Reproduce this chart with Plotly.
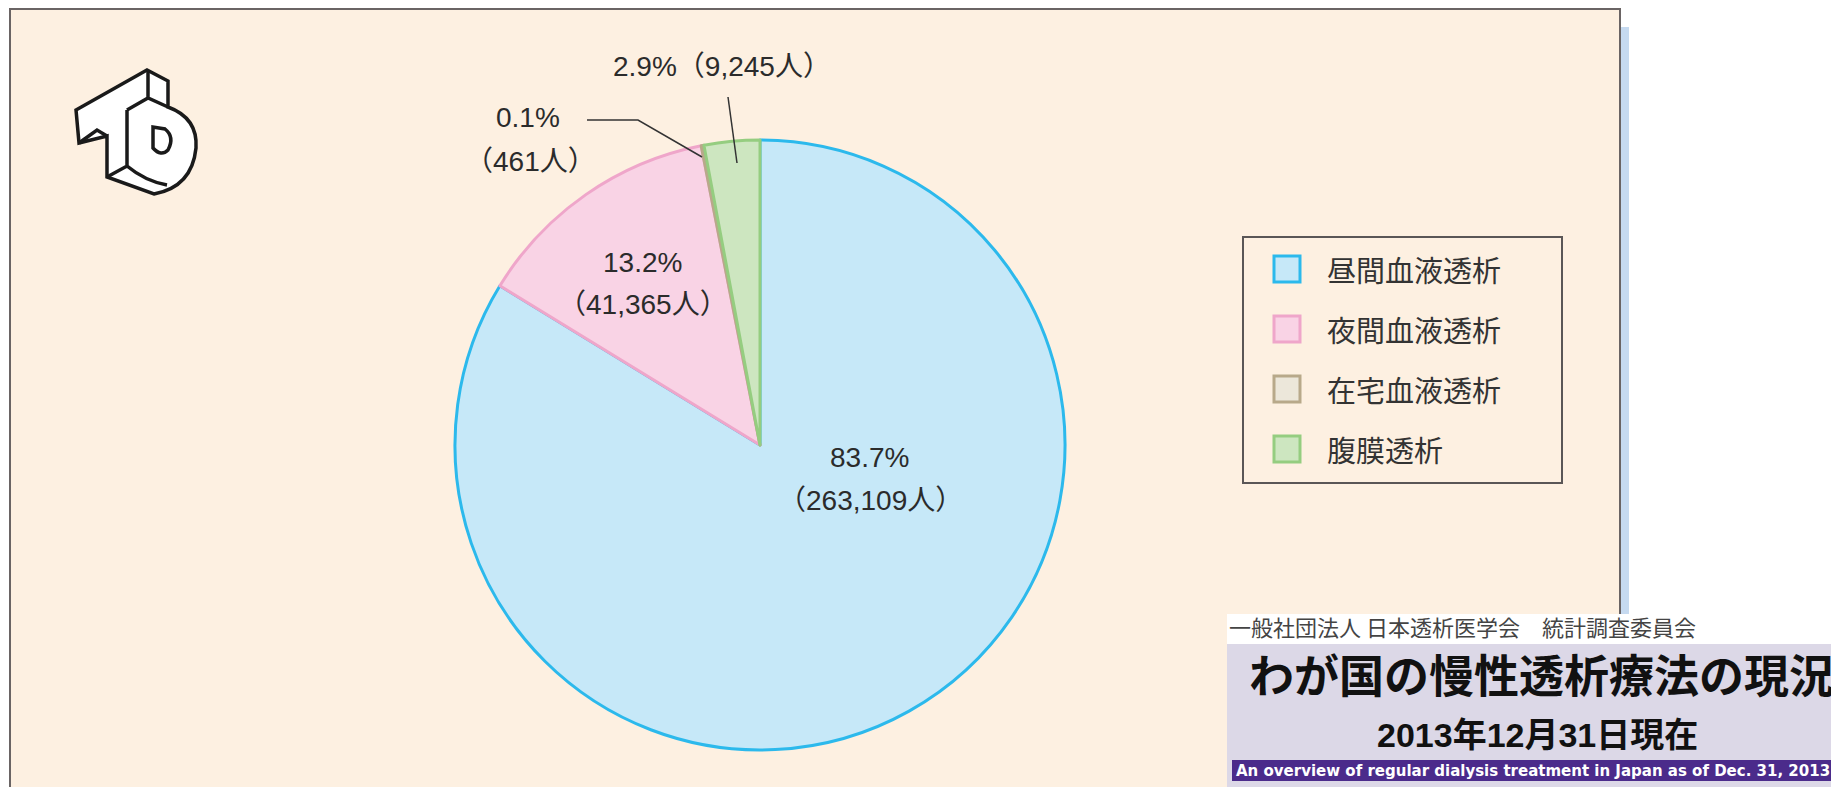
import plotly.graph_objects as go

# ---------------- data ----------------
categories = ["昼間血液透析", "夜間血液透析", "在宅血液透析", "腹膜透析"]
patients = [263109, 41365, 461, 9245]
percents = [83.7, 13.2, 0.1, 2.9]

fill_colors = ["#c6e8f8", "#f9d3e5", "#ece7da", "#cde6c0"]
line_colors = ["#2cb9ec", "#efa6ca", "#b8a98a", "#95cd80"]

banner_org = "一般社団法人 日本透析医学会　統計調査委員会"
banner_title = "わが国の慢性透析療法の現況"
banner_date = "2013年12月31日現在"
banner_en = "An overview of regular dialysis treatment in Japan as of Dec. 31, 2013"

W, H = 1839, 787
OFF = 8  # page body margin
BG = "#fdf0e1"
TXT = "#2b2b2b"
FONT = "Liberation Sans, Arial, Noto Sans CJK JP"


def X(px):
    return (px - OFF) / W


def Y(py):
    return 1 - (py - OFF) / H


def path(cmds, close=False):
    out = []
    for c, pts in cmds:
        out.append(c + " ".join(f"{X(a):.5f},{Y(b):.5f}" for a, b in pts))
    s = " ".join(out)
    return s + (" Z" if close else "")


fig = go.Figure()

# pie
cx, cy, r = 760, 445, 305
fig.add_trace(go.Pie(
    labels=categories,
    values=patients,
    sort=False,
    direction="clockwise",
    rotation=0,
    marker=dict(colors=fill_colors, line=dict(color=line_colors, width=3)),
    textinfo="none",
    hoverinfo="label+value+percent",
    showlegend=False,
    domain=dict(x=[X(cx - r), X(cx + r)], y=[Y(cy + r), Y(cy - r)]),
))

shapes = []


def rect(x0, y0, x1, y1, fill, line=None, layer="below"):
    shapes.append(dict(type="rect", xref="paper", yref="paper", layer=layer,
                       x0=X(x0), x1=X(x1), y0=Y(y1), y1=Y(y0),
                       fillcolor=fill, line=line or dict(width=0)))


# panel
rect(1621, 27, 1629, 800, "#c6daf0")
rect(10, 9, 1620, 820, BG, dict(color="#6a6464", width=2))

# banner
rect(1227, 614, 1850, 644, "#ffffff")
rect(1227, 644, 1850, 800, "#dcd8e7")
rect(1232, 760, 1850, 781, "#4b2b8b")

# logo (decorative)
logo_line = dict(color="#1a1a1a", width=3.5)
shapes.append(dict(type="path", xref="paper", yref="paper", layer="above",
                   path=path([("M", [(76, 110)]), ("L", [(147, 70)]), ("L", [(168, 81)]),
                              ("L", [(168, 107)]), ("Q", [(198, 118), (196, 148)]),
                              ("Q", [(192, 187), (154, 194)]),
                              ("L", [(107, 177)]), ("L", [(107, 136)]),
                              ("L", [(79, 143)])], close=True),
                   fillcolor="#ffffff", line=logo_line))
shapes.append(dict(type="path", xref="paper", yref="paper", layer="above",
                   path=path([("M", [(127, 110)]), ("L", [(127, 166)]),
                              ("M", [(79, 143)]), ("L", [(97, 130)]), ("L", [(107, 136)]),
                              ("M", [(127, 110)]), ("L", [(148, 98)]), ("L", [(168, 107)]),
                              ("M", [(148, 70)]), ("L", [(148, 98)]),
                              ("M", [(107, 177)]), ("L", [(127, 166)]),
                              ("Q", [(145, 181), (167, 185)])]),
                   line=logo_line))
shapes.append(dict(type="path", xref="paper", yref="paper", layer="above",
                   path=path([("M", [(153, 127)]), ("L", [(153, 148)]),
                              ("Q", [(161, 157), (168, 150)]),
                              ("Q", [(175, 137), (165, 129)])], close=True),
                   fillcolor="#ffffff", line=logo_line))

# leader lines
lead = dict(color="#333333", width=1.5)
shapes.append(dict(type="path", xref="paper", yref="paper", layer="above",
                   path=path([("M", [(587, 120)]), ("L", [(638, 120)]), ("L", [(702, 157)])]),
                   line=lead))
shapes.append(dict(type="path", xref="paper", yref="paper", layer="above",
                   path=path([("M", [(728, 97)]), ("L", [(737, 163)])]),
                   line=lead))

# legend box
rect(1243, 237, 1562, 483, "rgba(0,0,0,0)", dict(color="#5a5656", width=2), layer="above")

annotations = []
leg_rows = [269, 329, 389, 449]
for i, cat in enumerate(categories):
    yy = leg_rows[i]
    rect(1274, yy - 13, 1300, yy + 13, fill_colors[i],
         dict(color=line_colors[i], width=3), layer="above")
    annotations.append(dict(text=cat, x=X(1325), y=Y(yy), xref="paper", yref="paper",
                            xanchor="left", yanchor="middle", showarrow=False,
                            font=dict(size=29, color="#333333", family="Noto Sans CJK JP")))

lab_font = dict(size=28, color=TXT, family=FONT)


def ann(text, px, py, font=lab_font, **kw):
    d = dict(text=text, x=X(px), y=Y(py), xref="paper", yref="paper",
             xanchor="center", yanchor="middle", showarrow=False, font=font)
    d.update(kw)
    annotations.append(d)


pct_txt = [f"{p:.1f}%" for p in percents]
cnt_txt = [f"（{n:,}人）" for n in patients]
ann(pct_txt[0], 869, 458)
ann(cnt_txt[0], 870, 500)
ann(pct_txt[1], 642, 262)
ann(cnt_txt[1], 643, 305)
ann(pct_txt[2], 528, 117)
ann(cnt_txt[2], 530, 161)
ann(pct_txt[3] + cnt_txt[3], 722, 66)

# banner text
ann(banner_org, 1227, 626, font=dict(size=22, color="#444444", family="Noto Sans CJK JP"),
    xanchor="left")
ann("<b>" + banner_title + "</b>", 1541, 673,
    font=dict(size=45, color="#111111", family="Noto Sans CJK JP"))
ann("<b>" + banner_date + "</b>", 1537, 735,
    font=dict(size=34, color="#111111", family=FONT))
ann("<b>" + banner_en + "</b>", 1533, 771,
    font=dict(size=15, color="#ffffff", family="DejaVu Sans"))

fig.update_layout(
    width=W, height=H,
    margin=dict(l=0, r=0, t=0, b=0),
    paper_bgcolor="#ffffff",
    plot_bgcolor="rgba(0,0,0,0)",
    showlegend=False,
    shapes=shapes,
    annotations=annotations,
)

fig.write_html("out.html")
